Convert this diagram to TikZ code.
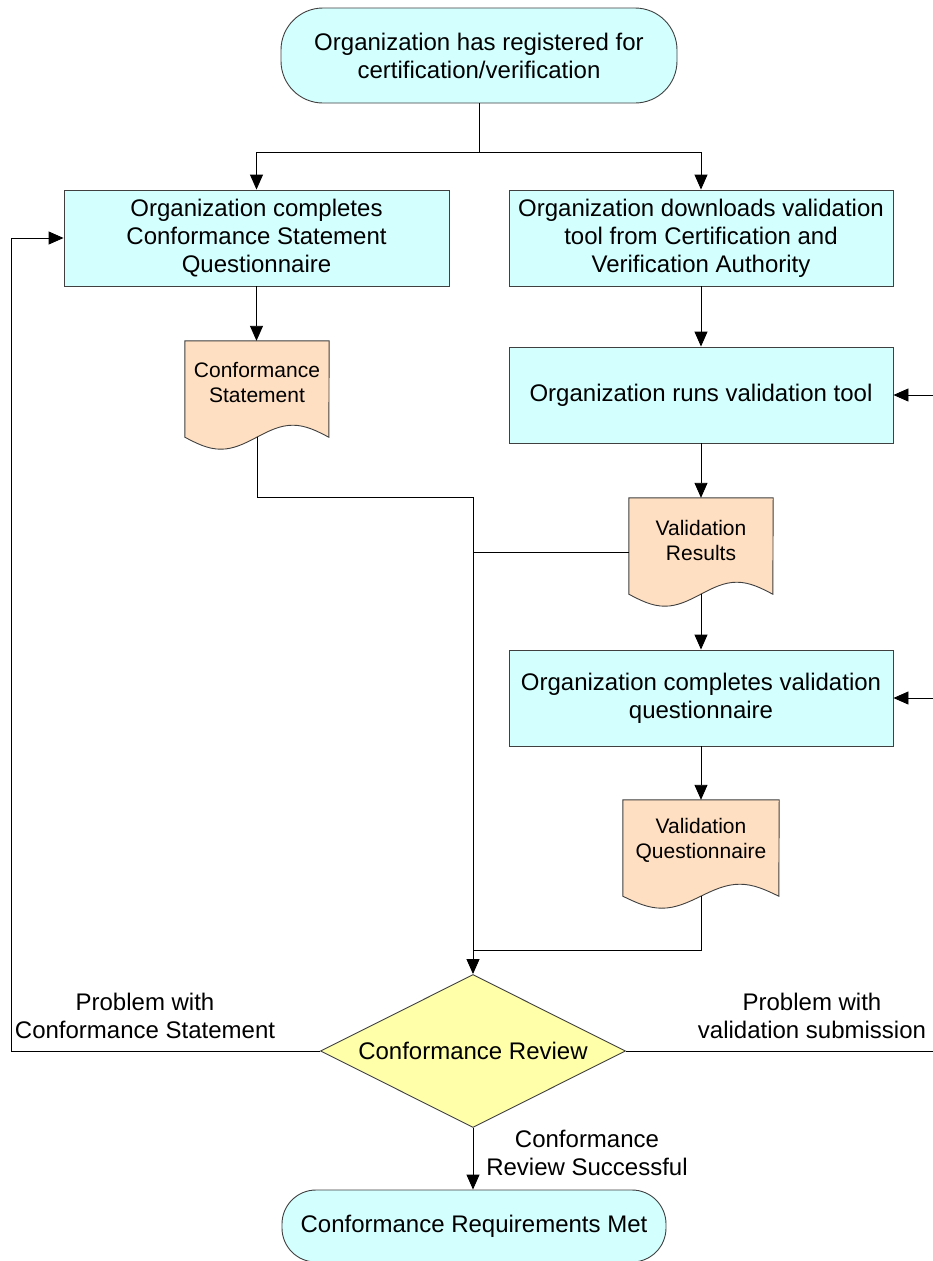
\documentclass[tikz,border=0pt]{standalone}
\usepackage{fontspec}
\setmainfont{Liberation Sans}
\usetikzlibrary{arrows.meta,shapes.geometric,backgrounds,calc}
\definecolor{boxcyan}{HTML}{D4FFFF}
\definecolor{docpeach}{HTML}{FFDFC2}
\definecolor{decyellow}{HTML}{FFFFAA}
\definecolor{edgegray}{HTML}{404040}
\begin{document}
\begin{tikzpicture}[x=1pt,y=-1pt,
  every node/.style={font=\fontsize{24}{28}\selectfont, align=center, inner sep=0pt},
  procbox/.style={draw=edgegray, line width=0.9pt, fill=boxcyan, minimum width=384pt, minimum height=96pt},
  termbox/.style={draw=edgegray, line width=0.9pt, fill=boxcyan},
  docnode/.style={minimum height=96pt},
  doctext/.style={font=\fontsize{21}{25}\selectfont},
  docshape/.style={draw=edgegray, line width=0.9pt, fill=docpeach},
  decision/.style={diamond, draw=edgegray, line width=0.9pt, fill=decyellow, minimum width=305pt, minimum height=153pt, aspect=2},
  conn/.style={draw=black, line width=0.9pt},
  arr/.style={conn, -{Triangle[length=15pt,width=13pt]}}
]
\clip (0,0) rectangle (933,1261);

% nodes
\node[termbox, rounded corners=42pt, minimum width=396pt, minimum height=95pt] (start) at (479,55.5)
  {Organization has registered for\\certification/verification};
\node[procbox, minimum width=385pt] (q1) at (256.5,238)
  {Organization completes\\Conformance Statement\\Questionnaire};
\node[procbox] (d1) at (701,238)
  {Organization downloads validation\\tool from Certification and\\Verification Authority};
\node[procbox] (run) at (701,395) {Organization runs validation tool};
\node[procbox] (cvq) at (701,698) {Organization completes validation\\questionnaire};

\node[docnode, minimum width=144pt] (cs) at (257,389) {};
\node[docnode, minimum width=144pt] (vr) at (701,546) {};
\node[docnode, minimum width=156pt] (vq) at (701,848) {};

\begin{scope}[on background layer]
  \fill[white] (0,0) rectangle (933,1261);
  \path[docshape] (cs.north west) -- (cs.south west) sin ++(36,12) cos ++(36,-12) sin ++(36,-12) cos ++(36,12) -- (cs.north east) -- cycle;
  \path[docshape] (vr.north west) -- (vr.south west) sin ++(36,12) cos ++(36,-12) sin ++(36,-12) cos ++(36,12) -- (vr.north east) -- cycle;
  \path[docshape] (vq.north west) -- (vq.south west) sin ++(39,12) cos ++(39,-12) sin ++(39,-12) cos ++(39,12) -- (vq.north east) -- cycle;
\end{scope}

\node[doctext] (cstext) at ($(cs.center)+(0,-7)$) {Conformance\\Statement};
\node[doctext] (vrtext) at ($(vr.center)+(0,-6)$) {Validation\\Results};
\node[doctext] (vqtext) at ($(vq.center)+(0,-8)$) {Validation\\Questionnaire};

\node[decision] (rev) at (473,1051) {Conformance Review};
\node[termbox, rounded corners=34pt, minimum width=384pt, minimum height=72pt] (fin) at (474,1226)
  {Conformance Requirements Met};

% labels
\node (lblleft) at (145,1016) {Problem with\\Conformance Statement};
\node (lblright) at (812,1016) {Problem with\\validation submission};
\node (lblok) at (587,1153) {Conformance\\Review Successful};

% connectors
\coordinate (split) at (479,152);
\draw[conn] (start.south) -- (split);
\draw[arr] (split) -| (q1.north);
\draw[arr] (split) -| (d1.north);
\draw[arr] (q1.south) -- (q1.south |- cs.north);
\draw[arr] (d1.south) -- (run.north);
\draw[arr] (run.south) -- (vr.north);
\draw[arr] (vr.south) -- (cvq.north);
\draw[arr] (cvq.south) -- (vq.north);

\coordinate (m1) at (473,497);
\coordinate (m3) at (473,950);
\draw[arr] (cs.south) |- (m1) -- (rev.north);
\coordinate (vrout) at ($(vr.west)+(0,6)$);
\draw[conn] (vrout) -- (vrout -| m1);
\draw[conn] (vq.south) |- (m3);

\coordinate (lb) at (11,1051);
\draw[arr] (rev.west) -- (lb) |- (q1.west);

\coordinate (rb) at (945,1051);
\draw[conn] (rev.east) -- (rb) -- (rb |- run.east);
\draw[arr] (rb |- run.east) -- (run.east);
\draw[arr] (rb |- cvq.east) -- (cvq.east);

\draw[arr] (rev.south) -- (rev.south |- fin.north);
\end{tikzpicture}
\end{document}
